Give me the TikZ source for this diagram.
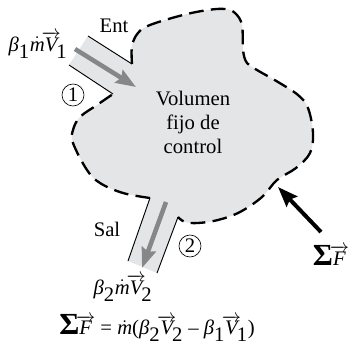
\documentclass[tikz,border=0pt]{standalone}
\usepackage{fontspec}
\setmainfont{Liberation Serif}
\usetikzlibrary{arrows.meta}
\definecolor{volumegray}{RGB}{228,229,231}
\definecolor{flowgray}{RGB}{133,135,138}
\newcommand{\vecsym}[1]{\mkern-3mu\overrightarrow{\textit{#1}}}
\newcommand{\betasym}[1]{\textit{β}_{\textrm{#1}}}
\newcommand{\mdot}{\dot{\textit{m}}}
\newcommand{\sumsym}{\textbf{\fontsize{23}{23}\selectfont Σ}}
\newcommand{\subone}{\mkern-4mu_{\textrm{1}}}
\newcommand{\subtwo}{\mkern-4mu_{\textrm{2}}}

\begin{document}
\begin{tikzpicture}[
  x=0.75pt, y=-0.75pt,
  boundary/.style={line width=1.75pt, dash pattern=on 11pt off 5.5pt},
  wall/.style={line width=0.7pt},
  flow/.style={-{Stealth[length=15pt, width=11pt, inset=2pt]}, line width=3.4pt, draw=flowgray},
  force/.style={-{Stealth[length=15pt, width=11pt, inset=2pt]}, line width=3pt},
  label/.style={font=\fontsize{15.5}{18}\selectfont, inner sep=0pt},
  station/.style={circle, draw, line width=0.5pt, inner sep=0pt, minimum size=16.5pt,
                  font=\fontsize{15.5}{18}\selectfont},
]
  \useasboundingbox (0,0) rectangle (350,343);

  % ---- Control volume ----
  \fill[volumegray] (88,36) -- (132,64)
    -- plot[smooth, tension=0.6] coordinates {(132,64) (132,46) (138,33) (150,25)
      (183,15) (208,10) (225,9) (235,13) (242,25) (243,50) (247,63) (257,70) (278,82) (298,95)
      (308,108) (313,133) (310,153) (296,168) (277,180) (262,197) (240,212) (218,220) (198,223)
      (185,222) (178,217)}
    -- (157,273) -- (128,261) -- (150,198)
    -- plot[smooth, tension=0.6] coordinates {(150,198) (123,193) (100,183) (87,170) (73,143)
      (73,130) (80,117) (97,105) (113,94)}
    -- (69,65) -- cycle;
  \draw[boundary] plot[smooth, tension=0.6] coordinates {(132,64) (132,46) (138,33) (150,25)
      (183,15) (208,10) (225,9) (235,13) (242,25) (243,50) (247,63) (257,70) (278,82) (298,95)
      (308,108) (313,133) (310,153) (296,168) (277,180) (262,197) (240,212) (218,220) (198,223)
      (185,222) (178,217)};
  \draw[boundary] plot[smooth, tension=0.6] coordinates {(150,198) (123,193) (100,183) (87,170)
      (73,143) (73,130) (80,117) (97,105) (113,94)};

  % ---- Inlet and outlet ----
  \draw[wall] (88,36) -- (132,64);
  \draw[wall] (69,65) -- (113,94);
  \draw[wall] (150,198) -- (128,261);
  \draw[wall] (178,217) -- (157,273);

  \coordinate (inA) at (75,49);
  \coordinate (inB) at (136,87);
  \coordinate (outA) at (166,202);
  \coordinate (outB) at (142,268);
  \coordinate (forceA) at (321,232);
  \coordinate (forceB) at (278,187);
  \draw[flow] (inA) -- (inB);
  \draw[flow] (outA) -- (outB);
  \draw[force] (forceA) -- (forceB);

  % ---- Labels ----
  \node[label] (ent) at (114,26) {Ent};
  \node[label] (sal) at (107,229) {Sal};
  \node[label, align=center] (vol) at (193,122) {Volumen\\[0pt]fijo de\\[0pt]control};
  \node[station] (st1) at (73,95) {1};
  \node[station] (st2) at (190,246) {2};
  \node[label] (influx) at (38,45) {$\betasym{1}\mdot\vecsym{V}\subone$};
  \node[label] (outflux) at (123,288) {$\betasym{2}\mdot\vecsym{V}\subtwo$};
  \node[label] (sumf) at (331,255) {\sumsym$\vecsym{F}$};
  \node[label] (eqn) at (157,328) {\sumsym$\vecsym{F}$ = $\mdot$($\betasym{2}\vecsym{V}\subtwo$ – $\betasym{1}\vecsym{V}\subone$)};
\end{tikzpicture}
\end{document}
